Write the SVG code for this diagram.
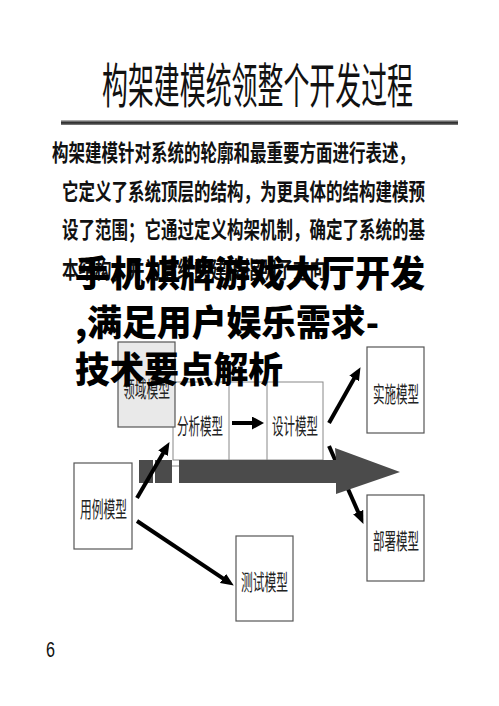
<svg xmlns="http://www.w3.org/2000/svg" width="499" height="706" viewBox="0 0 499 706">
<defs>
<linearGradient id="rule" x1="0" y1="0" x2="0" y2="1">
<stop offset="0" stop-color="#c8c8c8"/>
<stop offset="0.55" stop-color="#222"/>
<stop offset="1" stop-color="#888"/>
</linearGradient>
<marker id="ah" markerUnits="userSpaceOnUse" markerWidth="14" markerHeight="12" refX="4" refY="5.5" orient="auto">
<path d="M0,0 L13,5.5 L0,11 z" fill="#000"/>
</marker>
<marker id="ahb" markerUnits="userSpaceOnUse" markerWidth="14" markerHeight="14" refX="4" refY="6.5" orient="auto">
<path d="M0,0 L12,6.5 L0,13 z" fill="#000"/>
</marker>
</defs>
<style>
.cjk{font-family:"Noto Sans CJK SC","Noto Sans",sans-serif;}
.title{font-size:48px;fill:#111;}
.body{font-size:23px;fill:#111;font-weight:bold;}
.over{font-size:36px;font-weight:900;fill:#000;}
.lbl{font-size:22px;fill:#222;}
.box{fill:#fff;stroke:#555;stroke-width:1.2;}
.frame{fill:none;stroke:#888;stroke-width:1;}
.con{stroke:#000;stroke-width:4;fill:none;}
.grey{fill:#4b4b4b;}
</style>
<rect width="499" height="706" fill="#fff"/>

<g id="heading">
<text class="cjk title" x="102" y="103" textLength="311" lengthAdjust="spacingAndGlyphs">构架建模统领整个开发过程</text>
<rect x="61" y="120" width="397" height="5" fill="url(#rule)"/>
</g>

<g id="description" class="cjk body">
<text x="52" y="161" textLength="363" lengthAdjust="spacingAndGlyphs">构架建模针对系统的轮廓和最重要方面进行表述，</text>
<text x="62" y="200" textLength="363" lengthAdjust="spacingAndGlyphs">它定义了系统顶层的结构，为更具体的结构建模预</text>
<text x="62" y="238" textLength="363" lengthAdjust="spacingAndGlyphs">设了范围；它通过定义构架机制，确定了系统的基</text>
<text x="62" y="278" textLength="264" lengthAdjust="spacingAndGlyphs">本结构，并为后续的建模指明了方向</text>
</g>

<g id="process-frame">
<rect class="frame" x="173" y="382" width="150" height="78"/>
<line class="frame" x1="229" y1="382" x2="229" y2="460"/>
<line class="frame" x1="267" y1="382" x2="267" y2="460"/>
<line class="frame" x1="172" y1="466" x2="180" y2="466"/>
</g>

<g id="domain-model">
<rect x="118" y="342" width="57" height="85" fill="#e9e9e9" stroke="#555" stroke-width="1.2"/>
<text class="cjk lbl" x="123" y="397" textLength="47" lengthAdjust="spacingAndGlyphs">领域模型</text>
</g>
<g id="analysis-model">
<text class="cjk lbl" x="177" y="434" textLength="46" lengthAdjust="spacingAndGlyphs">分析模型</text>
</g>
<g id="design-model">
<text class="cjk lbl" x="272" y="434" textLength="46" lengthAdjust="spacingAndGlyphs">设计模型</text>
</g>
<g id="usecase-model">
<rect class="box" x="74" y="463" width="58" height="86"/>
<text class="cjk lbl" x="80" y="517" textLength="47" lengthAdjust="spacingAndGlyphs">用例模型</text>
</g>
<g id="test-model">
<rect class="box" x="236" y="536" width="57" height="85"/>
<text class="cjk lbl" x="241" y="590" textLength="47" lengthAdjust="spacingAndGlyphs">测试模型</text>
</g>
<g id="implementation-model">
<rect class="box" x="367" y="347" width="57" height="86"/>
<text class="cjk lbl" x="373" y="402" textLength="46" lengthAdjust="spacingAndGlyphs">实施模型</text>
</g>
<g id="deployment-model">
<rect class="box" x="367" y="495" width="57" height="86"/>
<text class="cjk lbl" x="373" y="549" textLength="46" lengthAdjust="spacingAndGlyphs">部署模型</text>
</g>

<g id="connectors">
<line class="con" x1="329" y1="446" x2="359.8" y2="515.7" marker-end="url(#ah)"/>
<g id="process-arrow" class="grey">
<rect x="139" y="460" width="14" height="23"/>
<rect x="155" y="460" width="17" height="23"/>
<polygon points="179,460 336,460 335,448 400,472 336,494 336,483 179,483"/>
</g>
<line class="con" x1="137" y1="498" x2="165" y2="449.9" marker-end="url(#ah)"/>
<line class="con" x1="137" y1="521" x2="226.3" y2="580.6" stroke-width="4.5" marker-end="url(#ah)"/>
<line class="con" x1="232" y1="423" x2="256" y2="423" stroke-width="5" marker-end="url(#ahb)"/>
<line class="con" x1="329" y1="423" x2="356.1" y2="375" marker-end="url(#ah)"/>
</g>

<g id="overlay-title" class="cjk over">
<text x="75" y="287" textLength="350" lengthAdjust="spacingAndGlyphs">手机棋牌游戏大厅开发</text>
<text x="75" y="336" textLength="304" lengthAdjust="spacingAndGlyphs">,满足用户娱乐需求-</text>
<text x="75" y="383" textLength="208" lengthAdjust="spacingAndGlyphs">技术要点解析</text>
</g>

<text x="46" y="657" font-family="Liberation Sans, sans-serif" font-size="22" fill="#111" textLength="9" lengthAdjust="spacingAndGlyphs">6</text>
</svg>
